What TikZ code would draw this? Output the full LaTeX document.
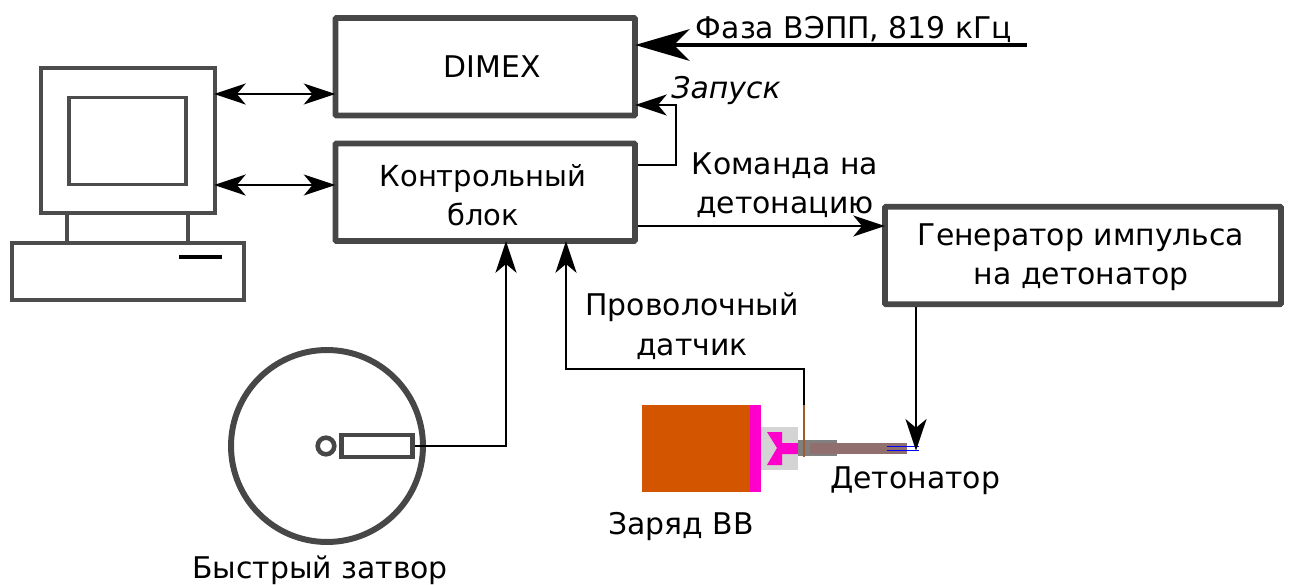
\documentclass[tikz,border=0pt]{standalone}
\usepackage{fontspec}
\setmainfont{DejaVu Sans}
\usetikzlibrary{arrows.meta,positioning,calc}
\tikzset{
    labeltext/.style = {font=\fontsize{17}{22.5}\selectfont, align=center},
    blockbox/.style = {draw=black!72, line width=3.2pt, rounded corners=0.5pt},
    pcline/.style = {draw=black!70, line width=2pt},
    link/.style = {line width=1pt, shorten >=-1.5pt, -{Stealth[length=18pt,width=12pt,inset=5pt]}},
    duallink/.style = {line width=1pt, shorten >=-1.5pt, shorten <=-1.5pt, {Stealth[length=18pt,width=12pt,inset=5pt]}-{Stealth[length=18pt,width=12pt,inset=5pt]}},
    phaselink/.style = {line width=2pt, shorten >=-1.5pt, -{Stealth[length=31pt,width=18pt,inset=9pt]}}
}
\definecolor{chargecol}{HTML}{D45500}
\definecolor{boostercol}{HTML}{FF00CC}
\definecolor{capcol}{HTML}{916F6F}
\definecolor{wirecol}{HTML}{A05A2C}
\begin{document}
\begin{tikzpicture}[x=0.02cm,y=-0.02cm]
    \useasboundingbox (0,0) rectangle (1289,585);

    %% computer
    \node[pcline, rectangle, minimum width=3.48cm, minimum height=2.90cm] (monitor) at (128,140.5) {};
    \node[pcline, rectangle, minimum width=2.34cm, minimum height=1.74cm] (screen) at (127.5,141) {};
    \node[pcline, rectangle, minimum width=4.64cm, minimum height=1.14cm] (keyboard) at (128,271.5) {};
    \draw[pcline] (screen.south west |- monitor.south) -- (screen.south west |- keyboard.north);
    \draw[pcline] (screen.south east |- monitor.south) -- (screen.south east |- keyboard.north);
    \coordinate (slotleft) at (179,257);
    \coordinate (slotright) at (222,257);
    \draw[line width=2pt] (slotleft) -- (slotright);

    %% blocks
    \node[blockbox, minimum width=5.99cm, minimum height=1.95cm] (dimex) at (485.25,66.75) {};
    \node[blockbox, minimum width=5.99cm, minimum height=1.95cm] (control) at (485.25,192.25) {};
    \node[blockbox, minimum width=7.92cm, minimum height=1.95cm] (pulser) at (1083,255.5) {};

    %% shutter
    \node[draw=black!72, line width=3.4pt, circle, minimum size=3.84cm] (shutter) at (327,446) {};
    \node[draw=black!72, line width=2.6pt, circle, minimum size=0.30cm] (pivot) at (326,446) {};
    \node[draw=black!72, line width=2.6pt, rectangle, minimum width=1.42cm, minimum height=0.44cm] (blade) at (377,446) {};

    %% charge
    \fill[chargecol] (642,405) rectangle (750,492);
    \fill[boostercol] (750,405) rectangle (761,492);
    \fill[black!17] (761,427) rectangle (798,470);
    \fill[boostercol] (767,432) -- (782,432) -- (782,443) -- (798,443) -- (798,454) -- (782,454) -- (782,465) -- (767,465) -- (777,448) -- cycle;
    \fill[black!50] (798,440) rectangle (837,456);
    \node[fill=capcol, inner sep=0pt, minimum width=1.94cm, minimum height=0.22cm] (detonator) at (858.5,448.5) {};
    \draw[blue, line width=0.5pt] (887,446) -- (919,446);
    \draw[blue, line width=0.5pt] (887,450) -- (919,450);
    \coordinate (wiretop) at (804,405);
    \coordinate (wireend) at (804,457);
    \draw[wirecol, line width=1pt] (wiretop) -- (wireend);

    %% connectors
    \coordinate (dimexlink) at (0,94);
    \coordinate (controllink) at (0,185);
    \coordinate (startlow) at (676,165);
    \coordinate (starthigh) at (676,105);
    \coordinate (firelink) at (0,226);
    \coordinate (phasestart) at (1027,45);
    \coordinate (wirecorner) at (566,369);
    \coordinate (shuttercorner) at (506,446);
    \coordinate (pulserdrop) at (916,448);
    \draw[duallink] (monitor.east |- dimexlink) -- (dimex.west |- dimexlink);
    \draw[duallink] (monitor.east |- controllink) -- (control.west |- controllink);
    \draw[phaselink] (phasestart) -- (dimex.east |- phasestart);
    \draw[link] (control.east |- startlow) -- (startlow) -- (starthigh) -- (dimex.east |- starthigh);
    \draw[link] (control.east |- firelink) -- (pulser.west |- firelink);
    \draw[link] (blade.east) -- (shuttercorner) -- (shuttercorner |- control.south);
    \draw[link] (wiretop) -- (wiretop |- wirecorner) -- (wirecorner) -- (wirecorner |- control.south);
    \draw[link] (pulserdrop |- pulser.south) -- (pulserdrop);

    %% labels
    \node[labeltext] (dimexlabel) at (492,67) {DIMEX};
    \node[labeltext, font=\fontsize{16.5}{22.5}\selectfont] (controllabel) at (483,195) {Контрольный\\блок};
    \node[labeltext] (pulserlabel) at (1081,257) {Генератор импульса\\на детонатор};
    \node[labeltext] (phaselabel) at (854,29) {Фаза ВЭПП, 819 кГц};
    \node[labeltext, font=\fontsize{17}{22.5}\selectfont\itshape] (startlabel) at (726,91) {Запуск};
    \node[labeltext] (firelabel) at (785,185) {Команда на\\детонацию};
    \node[labeltext] (wirelabel) at (692,326) {Проволочный\\датчик};
    \node[labeltext] (detlabel) at (915,481) {Детонатор};
    \node[labeltext] (chargelabel) at (681,527) {Заряд ВВ};
    \node[labeltext] (shutterlabel) at (320,570.5) {Быстрый затвор};
\end{tikzpicture}
\end{document}
